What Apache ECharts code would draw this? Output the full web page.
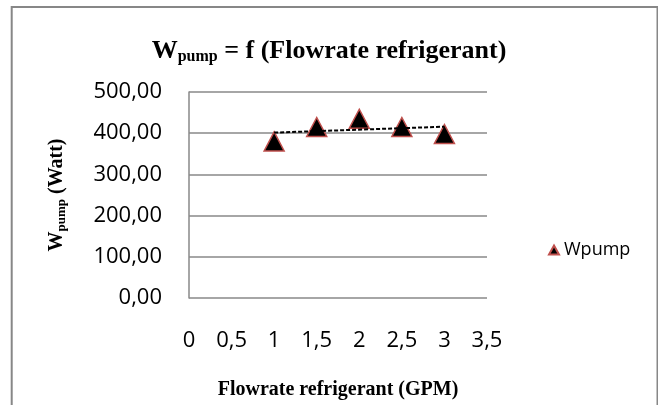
<!DOCTYPE html>
<html>
<head>
<meta charset="utf-8">
<script src="https://cdn.jsdelivr.net/npm/echarts@6/dist/echarts.min.js"></script>
<style>
html,body{margin:0;padding:0;background:#fff;}
#chart{width:658px;height:405px;}
</style>
</head>
<body>
<div id="chart"></div>
<script>
// Data
var flowrate = [1, 1.5, 2, 2.5, 3];
var wpump = [380, 415, 435, 415, 398];
var seriesName = 'Wpump';
var xTickValues = [0, 0.5, 1, 1.5, 2, 2.5, 3, 3.5];
var xTickLabels = ['0', '0,5', '1', '1,5', '2', '2,5', '3', '3,5'];
var yTickValues = [0, 100, 200, 300, 400, 500];
var yTickLabels = ['0,00', '100,00', '200,00', '300,00', '400,00', '500,00'];

// Linear trendline (least squares), as in the spreadsheet
function linearFit(xs, ys) {
  var n = xs.length, sx = 0, sy = 0, sxx = 0, sxy = 0;
  for (var i = 0; i < n; i++) { sx += xs[i]; sy += ys[i]; sxx += xs[i]*xs[i]; sxy += xs[i]*ys[i]; }
  var b = (n*sxy - sx*sy) / (n*sxx - sx*sx);
  var a = (sy - b*sx) / n;
  return function (x) { return a + b*x; };
}
var fit = linearFit(flowrate, wpump);
var xFirst = flowrate[0], xLast = flowrate[flowrate.length - 1];
var trend = [[xFirst, fit(xFirst)], [xLast, fit(xLast)]];

function lookup(vals, labels, v) {
  for (var i = 0; i < vals.length; i++) if (Math.abs(vals[i] - v) < 1e-9) return labels[i];
  return '';
}

var serif = 'Liberation Serif';
var sans = 'Open Sans';
var gridColor = '#898989';

var chart = echarts.init(document.getElementById('chart'), null, {renderer: 'canvas'});
chart.setOption({
  animation: false,
  backgroundColor: '#ffffff',
  title: {
    text: '{w|W}{sub|pump}{w| = f (Flowrate refrigerant)}',
    left: 'center',
    top: 32,
    textStyle: {
      rich: {
        w: {fontFamily: serif, fontWeight: 'bold', fontSize: 26, color: '#000'},
        sub: {fontFamily: serif, fontWeight: 'bold', fontSize: 16, color: '#000', padding: [12, 0, 0, 0]}
      }
    }
  },
  graphic: [{
    type: 'rect',
    shape: {x: 11.7, y: 7, width: 645.8, height: 430},
    style: {fill: 'none', stroke: '#878787', lineWidth: 2},
    silent: true,
    z: -1
  }],
  legend: {
    data: [seriesName],
    left: 543,
    top: 236,
    icon: 'triangle',
    itemWidth: 10,
    itemHeight: 9,
    itemGap: 5,
    textStyle: {fontFamily: sans, fontSize: 18, color: '#000'}
  },
  grid: {left: 189, right: 171, top: 92, bottom: 107, containLabel: false},
  xAxis: {
    type: 'value',
    min: 0,
    max: 3.5,
    interval: 0.5,
    name: 'Flowrate refrigerant (GPM)',
    nameLocation: 'middle',
    nameGap: 82,
    nameTextStyle: {fontFamily: serif, fontWeight: 'bold', fontSize: 20, color: '#000'},
    axisLine: {show: false},
    axisTick: {show: false},
    splitLine: {show: false},
    axisLabel: {
      margin: 32,
      fontFamily: sans,
      fontSize: 22,
      color: '#000',
      formatter: function (v) { return lookup(xTickValues, xTickLabels, v); }
    }
  },
  yAxis: {
    type: 'value',
    min: 0,
    max: 500,
    interval: 100,
    name: '{w|W}{sub|pump}{w| (Watt)}',
    nameLocation: 'middle',
    nameGap: 121,
    nameTextStyle: {
      rich: {
        w: {fontFamily: serif, fontWeight: 'bold', fontSize: 20, color: '#000'},
        sub: {fontFamily: serif, fontWeight: 'bold', fontSize: 13, color: '#000', padding: [9, 0, 0, 0]}
      }
    },
    axisLine: {show: true, lineStyle: {color: gridColor, width: 1.5}},
    axisTick: {show: false},
    splitLine: {show: true, lineStyle: {color: gridColor, width: 1.5}},
    axisLabel: {
      margin: 27,
      fontFamily: sans,
      fontSize: 22,
      color: '#000',
      formatter: function (v) { return lookup(yTickValues, yTickLabels, v); }
    }
  },
  series: [
    {
      name: seriesName,
      type: 'scatter',
      data: flowrate.map(function (x, i) { return [x, wpump[i]]; }),
      symbol: 'triangle',
      symbolSize: [20, 19],
      itemStyle: {color: '#000000', opacity: 1, borderColor: '#C0504D', borderWidth: 1.5},
      z: 3
    },
    {
      name: 'trend',
      type: 'line',
      data: trend,
      symbol: 'none',
      lineStyle: {color: '#000', width: 2, type: [4, 2]},
      silent: true,
      z: 4
    }
  ]
});
</script>
</body>
</html>
